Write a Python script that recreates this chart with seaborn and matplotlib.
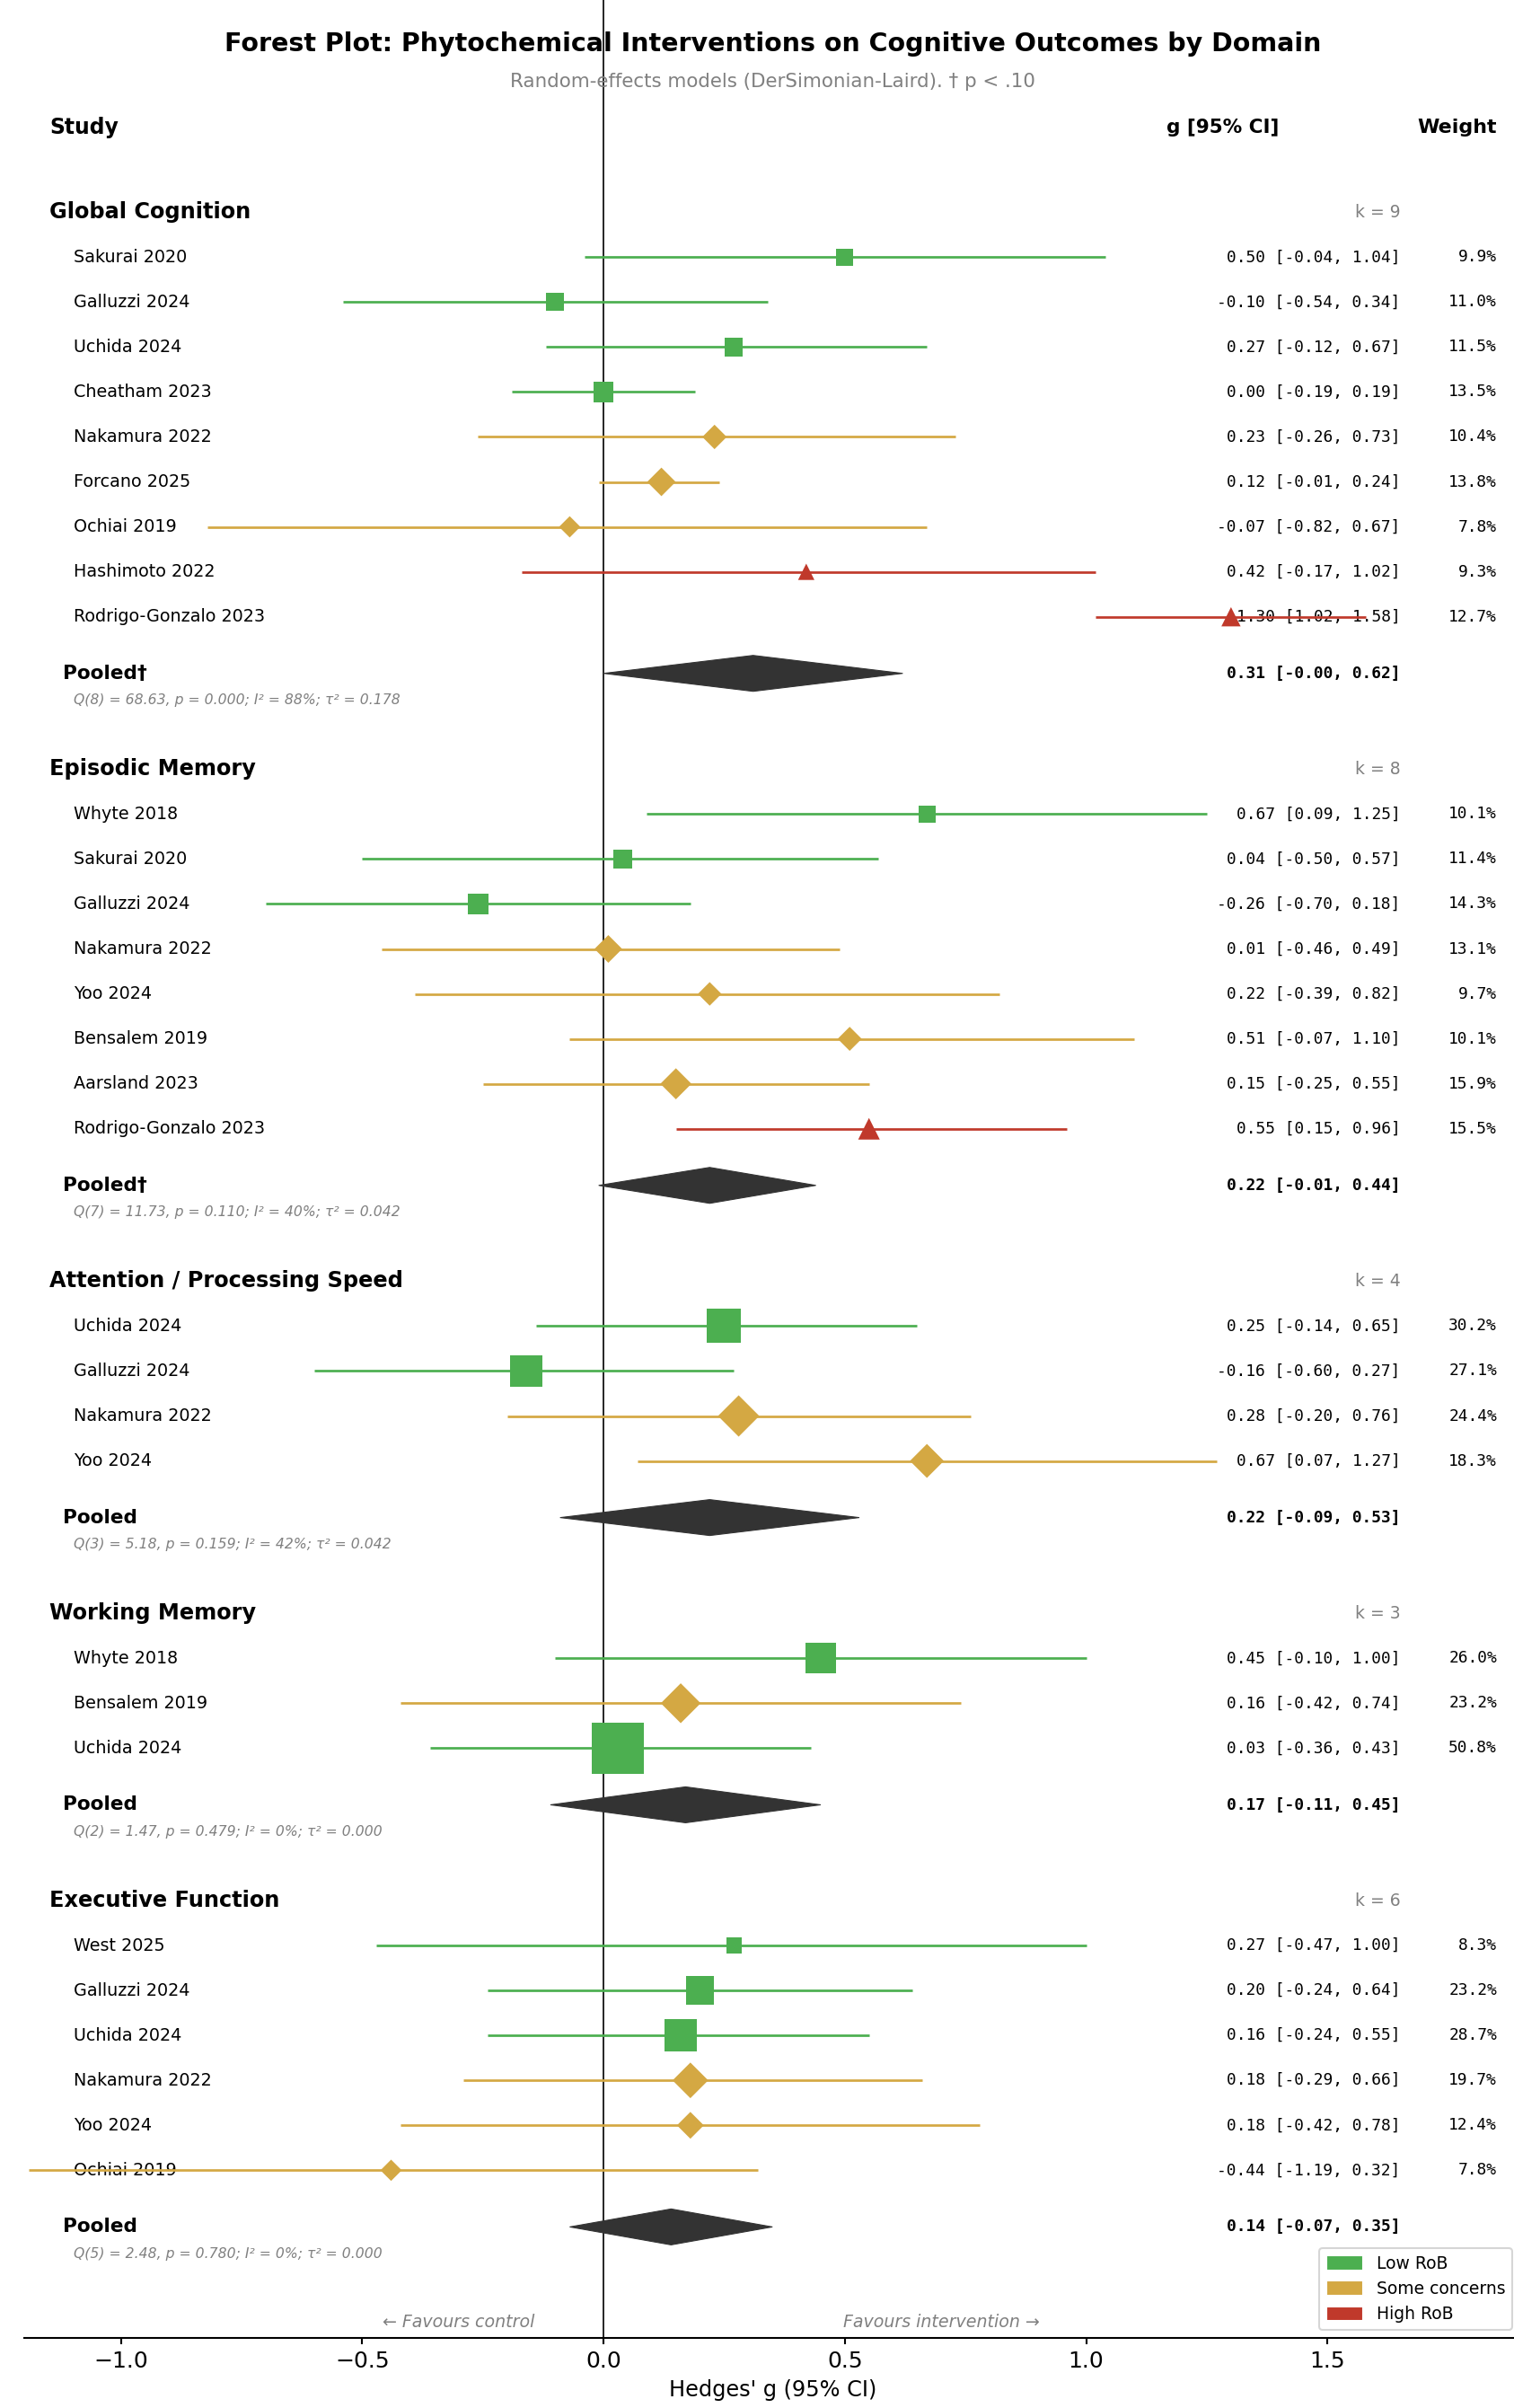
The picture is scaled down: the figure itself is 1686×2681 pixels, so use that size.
import matplotlib
matplotlib.use("Agg")
import matplotlib.pyplot as plt
import matplotlib.transforms as mtransforms
from matplotlib.patches import Polygon, Patch
import seaborn as sns

# ---- data -------------------------------------------------------------
domains = ["Global Cognition", "Episodic Memory", "Attention / Processing Speed",
           "Working Memory", "Executive Function"]

study_domain = [0] * 9 + [1] * 8 + [2] * 4 + [3] * 3 + [4] * 6
study_names = [
    "Sakurai 2020", "Galluzzi 2024", "Uchida 2024", "Cheatham 2023", "Nakamura 2022",
    "Forcano 2025", "Ochiai 2019", "Hashimoto 2022", "Rodrigo-Gonzalo 2023",
    "Whyte 2018", "Sakurai 2020", "Galluzzi 2024", "Nakamura 2022", "Yoo 2024",
    "Bensalem 2019", "Aarsland 2023", "Rodrigo-Gonzalo 2023",
    "Uchida 2024", "Galluzzi 2024", "Nakamura 2022", "Yoo 2024",
    "Whyte 2018", "Bensalem 2019", "Uchida 2024",
    "West 2025", "Galluzzi 2024", "Uchida 2024", "Nakamura 2022", "Yoo 2024", "Ochiai 2019",
]
study_rob = [
    "low", "low", "low", "low", "some", "some", "some", "high", "high",
    "low", "low", "low", "some", "some", "some", "some", "high",
    "low", "low", "some", "some",
    "low", "some", "low",
    "low", "low", "low", "some", "some", "some",
]
study_g = [0.50, -0.10, 0.27, 0.00, 0.23, 0.12, -0.07, 0.42, 1.30,
           0.67, 0.04, -0.26, 0.01, 0.22, 0.51, 0.15, 0.55,
           0.25, -0.16, 0.28, 0.67,
           0.45, 0.16, 0.03,
           0.27, 0.20, 0.16, 0.18, 0.18, -0.44]
study_lo = [-0.04, -0.54, -0.12, -0.19, -0.26, -0.01, -0.82, -0.17, 1.02,
            0.09, -0.50, -0.70, -0.46, -0.39, -0.07, -0.25, 0.15,
            -0.14, -0.60, -0.20, 0.07,
            -0.10, -0.42, -0.36,
            -0.47, -0.24, -0.24, -0.29, -0.42, -1.19]
study_hi = [1.04, 0.34, 0.67, 0.19, 0.73, 0.24, 0.67, 1.02, 1.58,
            1.25, 0.57, 0.18, 0.49, 0.82, 1.10, 0.55, 0.96,
            0.65, 0.27, 0.76, 1.27,
            1.00, 0.74, 0.43,
            1.00, 0.64, 0.55, 0.66, 0.78, 0.32]
study_weight = [9.9, 11.0, 11.5, 13.5, 10.4, 13.8, 7.8, 9.3, 12.7,
                10.1, 11.4, 14.3, 13.1, 9.7, 10.1, 15.9, 15.5,
                30.2, 27.1, 24.4, 18.3,
                26.0, 23.2, 50.8,
                8.3, 23.2, 28.7, 19.7, 12.4, 7.8]

pooled_g = [0.31, 0.22, 0.22, 0.17, 0.14]
pooled_lo = [-0.00, -0.01, -0.09, -0.11, -0.07]
pooled_hi = [0.62, 0.44, 0.53, 0.45, 0.35]
pooled_trend = [True, True, False, False, False]   # p < .10
het_q = [68.63, 11.73, 5.18, 1.47, 2.48]
het_df = [8, 7, 3, 2, 5]
het_p = [0.000, 0.110, 0.159, 0.479, 0.780]
het_i2 = [88, 40, 42, 0, 0]
het_tau2 = [0.178, 0.042, 0.042, 0.000, 0.000]

rob_labels = {"low": "Low RoB", "some": "Some concerns", "high": "High RoB"}
rob_colors = {"low": "#4CAF50", "some": "#D4A843", "high": "#C0392B"}
rob_markers = {"low": "s", "some": "D", "high": "^"}

# ---- figure -------------------------------------------------------------
sns.set_style("white")
plt.rcParams["font.family"] = ["DejaVu Sans"]
plt.rcParams["text.color"] = "black"
plt.rcParams["axes.labelcolor"] = "black"
plt.rcParams["xtick.color"] = "black"

W, H, DPI = 1686, 2681, 150
fig = plt.figure(figsize=(W / DPI, H / DPI), dpi=DPI)
ax = fig.add_axes([27 / W, 1 - 2602.5 / H, (1693.4 - 27) / W, 2602.5 / H])

XMIN, XMAX = -1.2, 1.9
YTOP, YBOT = -4.72, 47.28
ax.set_xlim(XMIN, XMAX)
ax.set_ylim(YBOT, YTOP)

X_GROUP = -1.148
X_STUDY = -1.097
X_POOLED = -1.12
X_CI = 1.651
X_W = 1.851
X_CI_HEAD = 1.283

GAP_POOLED = 1.26
GAP_NEXT = 2.13
DIAM_H = 0.40
MONO = "DejaVu Sans Mono"

center_x = mtransforms.blended_transform_factory(ax.transAxes, ax.transData)
ax.text(0.5, -3.74, "Forest Plot: Phytochemical Interventions on Cognitive Outcomes by Domain",
        transform=center_x, ha="center", va="center", fontsize=13.7, fontweight="bold")
ax.text(0.5, -2.90, "Random-effects models (DerSimonian-Laird). \u2020 p < .10",
        transform=center_x, ha="center", va="center", fontsize=10.25, color="gray")

ax.text(X_GROUP, -1.88, "Study", ha="left", va="center", fontsize=11.3, fontweight="bold")
ax.text(X_CI_HEAD, -1.88, "g [95% CI]", ha="center", va="center", fontsize=10.3, fontweight="bold")
ax.text(X_W, -1.88, "Weight", ha="right", va="center", fontsize=10.6, fontweight="bold")

ax.axvline(0, color="black", lw=0.8, zorder=1)

y = 0.0
for d, dname in enumerate(domains):
    idx = [i for i, dd in enumerate(study_domain) if dd == d]
    ax.text(X_GROUP, y, dname, ha="left", va="center", fontsize=11.5, fontweight="bold")
    ax.text(X_CI, y, f"k = {len(idx)}", ha="right", va="center", fontsize=9, color="gray")
    for j, i in enumerate(idx):
        yi = y + 1 + j
        rob = study_rob[i]
        col = rob_colors[rob]
        ax.text(X_STUDY, yi, study_names[i], ha="left", va="center", fontsize=9.2)
        ax.plot([study_lo[i], study_hi[i]], [yi, yi], color=col, lw=1.3,
                solid_capstyle="butt", zorder=4)
        ms = 4.5 + 0.456 * study_weight[i]
        sns.scatterplot(x=[study_g[i]], y=[yi], marker=rob_markers[rob], s=ms ** 2,
                        color=col, linewidth=0, edgecolor="none", zorder=5,
                        legend=False, ax=ax)
        ax.text(X_CI, yi, f"{study_g[i]:.2f} [{study_lo[i]:.2f}, {study_hi[i]:.2f}]",
                ha="right", va="center", fontsize=8.6, family=MONO, zorder=3)
        ax.text(X_W, yi, f"{study_weight[i]:.1f}%", ha="right", va="center",
                fontsize=8.6, family=MONO)
    yp = y + len(idx) + GAP_POOLED
    label = "Pooled\u2020" if pooled_trend[d] else "Pooled"
    ax.text(X_POOLED, yp, label, ha="left", va="center", fontsize=10.4, fontweight="bold")
    diamond = Polygon([(pooled_lo[d], yp), (pooled_g[d], yp - DIAM_H),
                       (pooled_hi[d], yp), (pooled_g[d], yp + DIAM_H)],
                      closed=True, facecolor="#333333", edgecolor="#333333", lw=0.5, zorder=4)
    ax.add_patch(diamond)
    ax.text(X_CI, yp, f"{pooled_g[d]:.2f} [{pooled_lo[d]:.2f}, {pooled_hi[d]:.2f}]",
            ha="right", va="center", fontsize=8.6, family=MONO, fontweight="bold")
    ax.text(X_STUDY, yp + 0.6,
            f"Q({het_df[d]}) = {het_q[d]:.2f}, p = {het_p[d]:.3f}; I\u00b2 = {het_i2[d]}%; "
            f"\u03c4\u00b2 = {het_tau2[d]:.3f}",
            ha="left", va="center", fontsize=7.5, style="italic", color="gray")
    y = yp + GAP_NEXT

y_fav = 46.94
ax.text(-0.3, y_fav, "\u2190 Favours control", ha="center", va="center",
        fontsize=9.1, style="italic", color="gray")
ax.text(0.7, y_fav, "Favours intervention \u2192", ha="center", va="center",
        fontsize=9.1, style="italic", color="gray")

for side in ("top", "left", "right"):
    ax.spines[side].set_visible(False)
ax.spines["bottom"].set_linewidth(1.0)
ax.spines["bottom"].set_color("black")
ax.set_yticks([])
ax.set_xticks([-1.0, -0.5, 0.0, 0.5, 1.0, 1.5])
ax.tick_params(axis="x", labelsize=12, length=3.5, width=1.0, color="black",
               labelcolor="black", bottom=True)
ax.set_xlabel("Hedges' g (95% CI)", fontsize=11.5, color="black")
ax.set_ylabel("")

handles = [Patch(facecolor=rob_colors[k], label=rob_labels[k]) for k in ("low", "some", "high")]
fig.legend(handles=handles, loc="lower right", bbox_to_anchor=(1684 / W, 1 - 2594 / H),
           fontsize=9, frameon=True, borderaxespad=0, handlelength=2.2, handleheight=1.0)

fig.savefig("out.png", dpi=DPI)
